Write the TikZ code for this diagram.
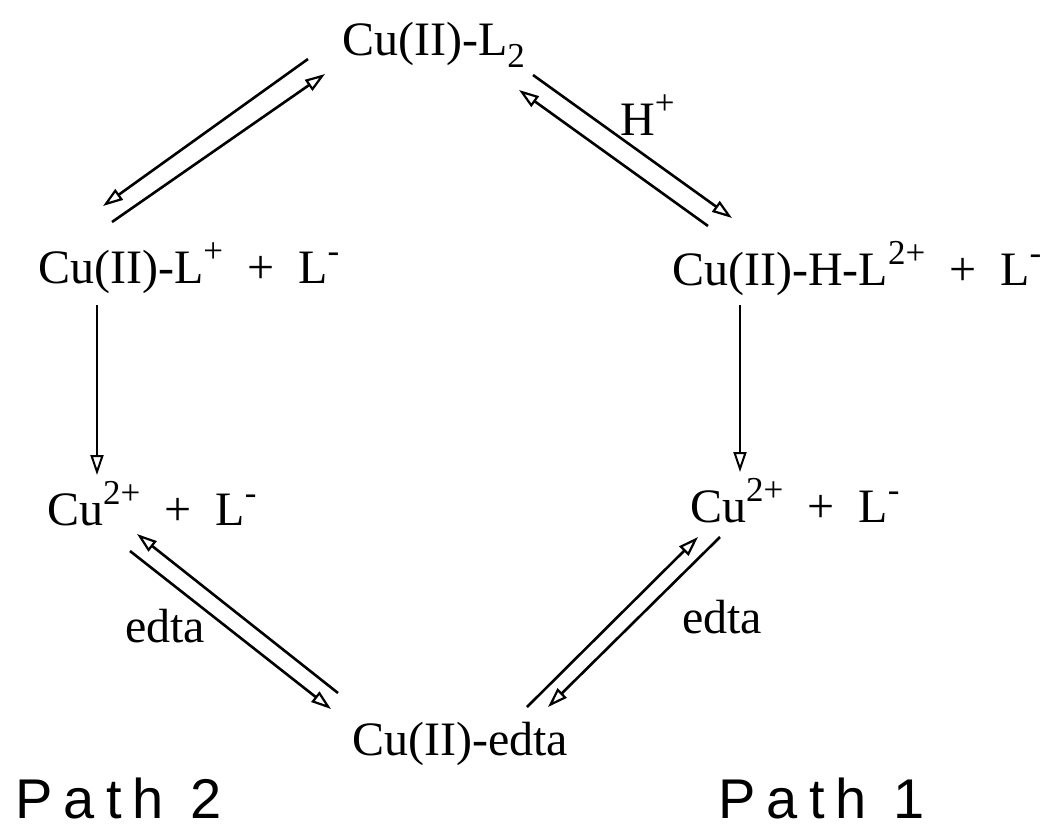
\documentclass[tikz,border=0pt]{standalone}
\usepackage{fontspec}
\setmainfont{Liberation Serif}
\newfontfamily\pathfont[LetterSpace=20]{Liberation Sans}
\usetikzlibrary{arrows.meta}
\newcommand\myup[1]{\raisebox{0.42em}{\fontsize{35}{37}\selectfont #1}}
\newcommand\mydn[1]{\raisebox{-0.27em}{\fontsize{35}{37}\selectfont #1}}
\begin{document}
\begin{tikzpicture}[x=1pt,y=-1pt,
  lbl/.style={font=\fontsize{48}{56}\selectfont, inner sep=0pt, anchor=base west},
  pathlbl/.style={font=\fontsize{56}{64}\selectfont\pathfont, inner sep=0pt, anchor=base west},
  rxn/.style={line width=2.6pt, -{Triangle[open,length=20pt,width=13pt,line width=2.2pt]}},
  down/.style={line width=2pt, -{Triangle[open,length=20pt,width=13pt,line width=2pt]}}]
\useasboundingbox[fill=white] (0,0) rectangle (1048,831);

% species
\node[lbl] (top) at (342,55) {Cu(II)-L\mydn{2}};
\node[lbl] (ml) at (38,283) {Cu(II)-L\myup{+}~~+~~L\myup{-}};
\node[lbl] (mr) at (672,285) {Cu(II)-H-L\myup{2+}~~+~~L\myup{-}};
\node[lbl] (ll) at (47,525) {Cu\myup{2+}~~+~~L\myup{-}};
\node[lbl] (lr) at (690,522) {Cu\myup{2+}~~+~~L\myup{-}};
\node[lbl] (bot) at (352,755) {Cu(II)-edta};
\node[pathlbl] (p2) at (15,818) {Path 2};
\node[pathlbl] (p1) at (718,818) {Path 1};

% conditions
\node[lbl] (hplus) at (620,135) {H\myup{+}};
\node[lbl] (edtal) at (125,642) {edta};
\node[lbl] (edtar) at (682,633) {edta};

% arrow end points
\coordinate (a1s) at (308,59);  \coordinate (a1e) at (103,206);
\coordinate (a2s) at (112,222); \coordinate (a2e) at (325,74);
\coordinate (b1s) at (533,75);  \coordinate (b1e) at (732,218);
\coordinate (b2s) at (708,226); \coordinate (b2e) at (519,90);
\coordinate (c1s) at (338,693); \coordinate (c1e) at (137,534);
\coordinate (c2s) at (130,551); \coordinate (c2e) at (331,709);
\coordinate (d1s) at (527,707); \coordinate (d1e) at (698,537);
\coordinate (d2s) at (720,537); \coordinate (d2e) at (548,707);
\coordinate (vls) at (97,305);  \coordinate (vle) at (97,475);
\coordinate (vrs) at (740,305); \coordinate (vre) at (740,472);

% top-left equilibrium
\draw[rxn] (a1s) -- (a1e);
\draw[rxn] (a2s) -- (a2e);
% top-right equilibrium
\draw[rxn] (b1s) -- (b1e);
\draw[rxn] (b2s) -- (b2e);
% bottom-left equilibrium
\draw[rxn] (c1s) -- (c1e);
\draw[rxn] (c2s) -- (c2e);
% bottom-right equilibrium
\draw[rxn] (d1s) -- (d1e);
\draw[rxn] (d2s) -- (d2e);

% vertical arrows
\draw[down] (vls) -- (vle);
\draw[down] (vrs) -- (vre);
\end{tikzpicture}
\end{document}
